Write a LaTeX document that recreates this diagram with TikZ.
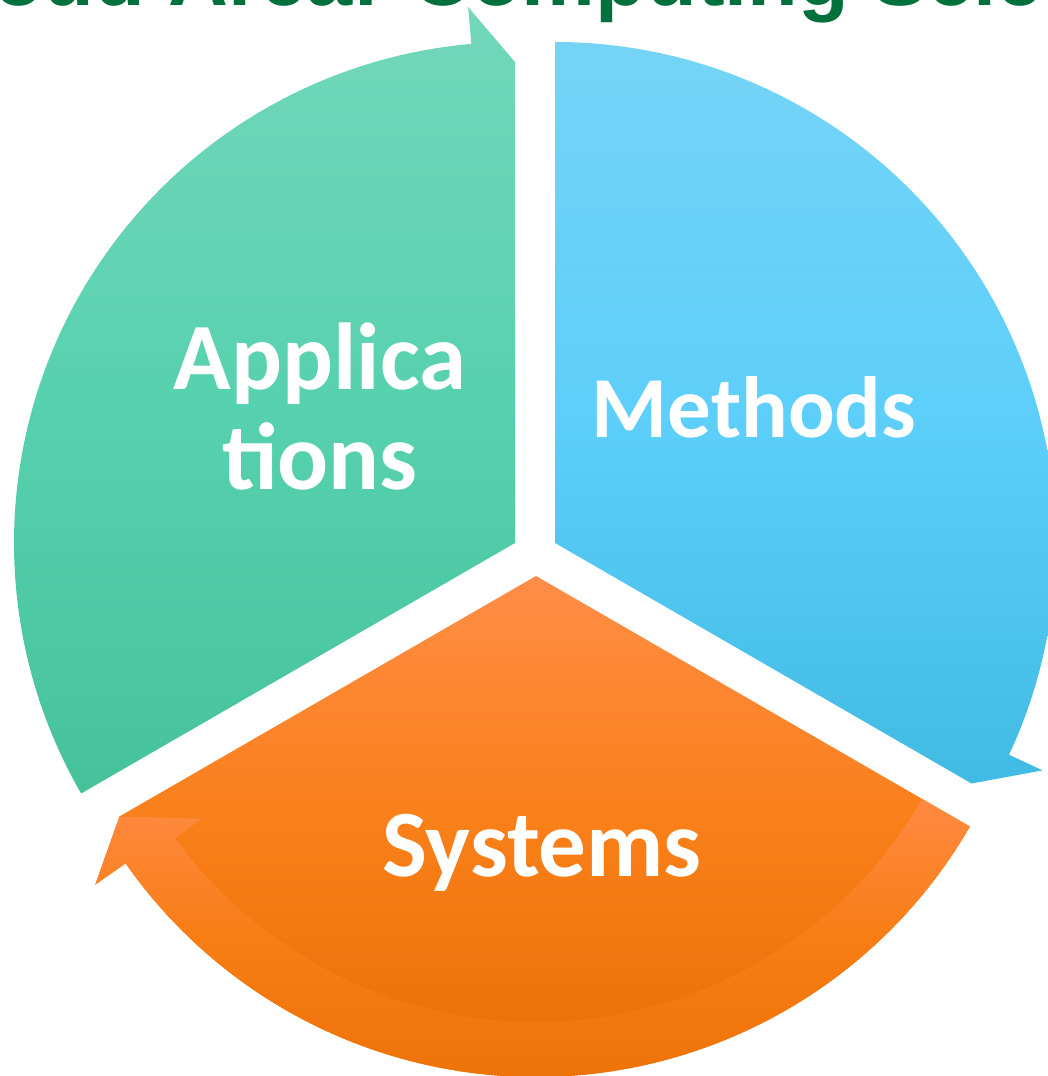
\documentclass[tikz,border=0pt]{standalone}
\usepackage{fontspec}
\newfontfamily\calib{Carlito}
\newfontfamily\titlefont{Liberation Sans}
\definecolor{titlegreen}{HTML}{00703C}
\definecolor{gTop}{HTML}{74D7BA}
\definecolor{gMid}{HTML}{57D1AF}
\definecolor{gBot}{HTML}{46C29B}
\definecolor{bTop}{HTML}{75D4F6}
\definecolor{bMid}{HTML}{5DCFFA}
\definecolor{bBot}{HTML}{41BBE4}
\definecolor{oTop}{HTML}{FF8D46}
\definecolor{oMid}{HTML}{F97F18}
\definecolor{oBot}{HTML}{EA6E06}
\definecolor{lTop}{HTML}{FF8A42}
\definecolor{lMid}{HTML}{F77D14}
\definecolor{lBot}{HTML}{EE7309}
\begin{document}
\begin{tikzpicture}[x=1pt,y=1pt,
  gshade/.style={top color=gTop, bottom color=gBot, middle color=gMid},
  bshade/.style={top color=bTop, bottom color=bBot, middle color=bMid},
  oshade/.style={top color=oTop, bottom color=oBot, middle color=oMid},
  lshade/.style={top color=lTop, bottom color=lBot, middle color=lMid},
  lbl/.style={text=white, inner sep=0pt, anchor=base},
  big/.style={font=\calib\bfseries\fontsize{95}{100}\selectfont},
  mid/.style={font=\calib\bfseries\fontsize{87}{95}\selectfont}]
\useasboundingbox (0,0) rectangle (1047,1076);
\fill[white] (0,0) rectangle (1047,1076);
% title (cut by the top edge)
\node[anchor=base west, inner sep=0pt, text=titlegreen,
  font=\titlefont\bfseries\fontsize{83}{90}\selectfont] (title) at (-90,1070) {Cloud Area: Computing Science};
% green segment
\begin{scope}[shift={(515,533)}]
\shade[gshade] (0,0) -- (90:481) -- (95:538) -- (95:501)
  arc[start angle=95, end angle=210, radius=501] -- cycle;
\end{scope}
% blue segment
\begin{scope}[shift={(555,533)}]
\shade[bshade] (0,0) -- (90:501)
  arc[start angle=90, end angle=-25, radius=501] -- (-25:538) -- (-30:481) -- cycle;
\end{scope}
% orange segment
\begin{scope}[shift={(536,500)}]
\shade[oshade] (0,0) -- (-30:501)
  arc[start angle=-30, end angle=-145, radius=501] -- (215:538) -- (210:481) -- cycle;
\shade[lshade] (-30:446) -- (-30:501)
  arc[start angle=-30, end angle=-145, radius=501] -- (215:538) -- (210:481)
  -- (216:413) -- (216:446) arc[start angle=216, end angle=330, radius=446] -- cycle;
\end{scope}
% labels
\node[lbl, big, align=center] (app) at (320,586) {Applica\\tions};
\node[lbl, mid] (met) at (754,638) {Methods};
\node[lbl, big] (sys) at (542,199) {Systems};
\end{tikzpicture}
\end{document}
